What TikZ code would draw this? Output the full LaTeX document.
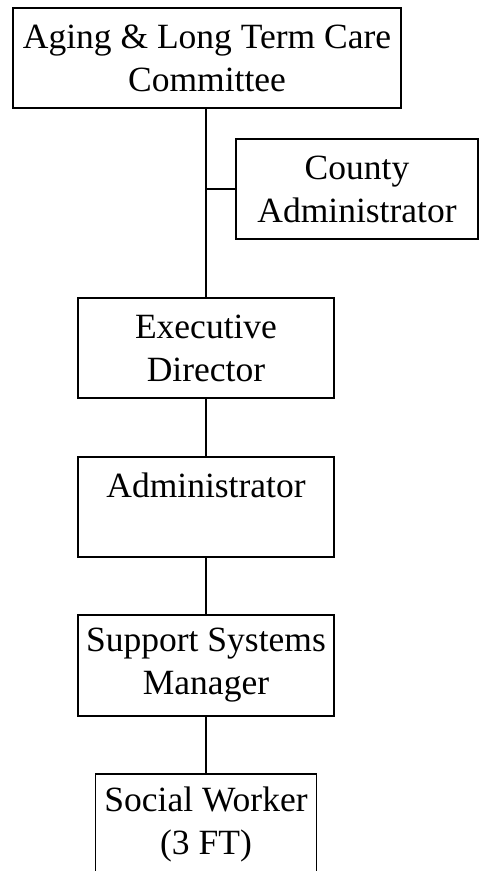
\documentclass[tikz,border=0pt]{standalone}
\usepackage{fontspec}
\setmainfont{Liberation Serif}
\usetikzlibrary{calc}

\begin{document}
\begin{tikzpicture}[x=1pt,y=-1pt,
        unit/.style={rectangle,draw,line width=1.3pt,inner sep=0pt,align=center,
            font=\fontsize{35.5}{43}\selectfont,minimum height=100pt}]
            \clip (0, 0) rectangle (479, 871);

            \node[unit,minimum width=388pt] (committee) at (207, 58) {Aging \& Long Term Care\\Committee};
            \node[unit,minimum width=242pt] (county) at (357, 189) {County\\Administrator};
            \node[unit,minimum width=256pt] (exec) at (206, 348) {Executive\\Director};
            \node[unit,minimum width=256pt] (admin) at (206, 507) {Administrator\\\mbox{}};
            \node[unit,minimum width=256pt,minimum height=101pt] (support) at (206, 665.5) {Support Systems\\Manager};
            \node[unit,minimum width=221pt] (social) at (206, 824) {Social Worker\\(3 FT)};

            \coordinate (branch) at (exec.north |- county.west);

            \draw[line width=1.3pt] (exec.north |- committee.south) -- (exec.north);
            \draw[line width=1.3pt] (branch) -- (county.west);
            \draw[line width=1.3pt] (exec.south) -- (admin.north);
            \draw[line width=1.3pt] (admin.south) -- (support.north);
            \draw[line width=1.3pt] (support.south) -- (social.north);
        \end{tikzpicture}
\end{document}
